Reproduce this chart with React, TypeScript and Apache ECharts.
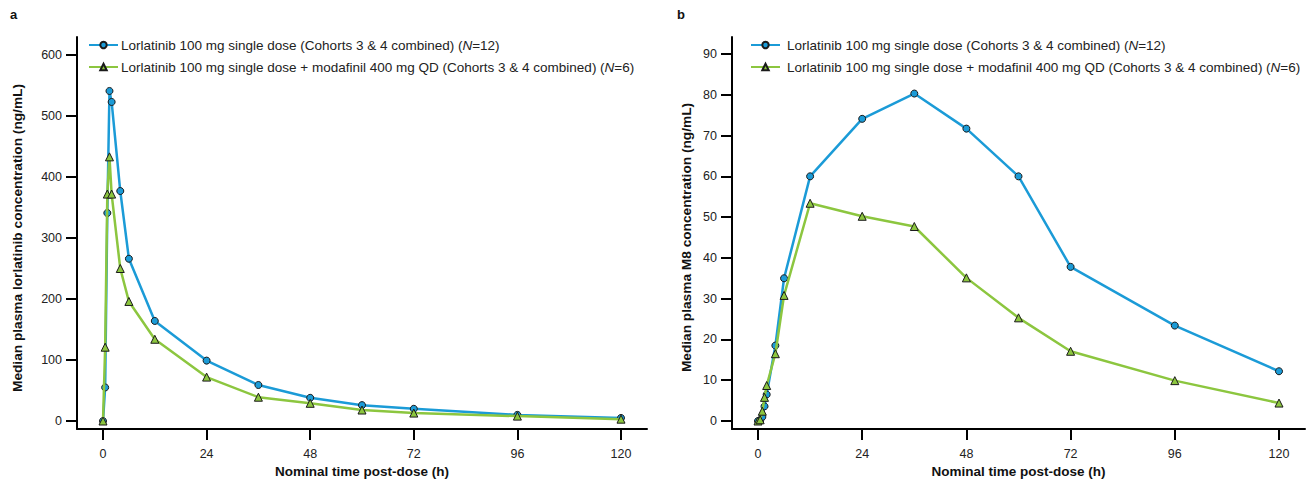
import React, { useEffect, useRef } from "react";
import * as echarts from "echarts";

const times = [0, 0.5, 1, 1.5, 2, 4, 6, 12, 24, 36, 48, 60, 72, 96, 120];
const lorlatinibA = [0, 55, 341, 541, 523, 377, 266, 164, 99, 59, 38, 26, 20, 10, 5];
const modafinilA = [0, 121, 372, 433, 372, 250, 196, 134, 72, 39, 29, 18, 13, 8, 3];
const lorlatinibB = [0, 0.1, 1.0, 3.6, 6.5, 18.5, 35, 60, 74.1, 80.3, 71.7, 60, 37.8, 23.4, 12.2];
const modafinilB = [0, 0.3, 2.4, 5.8, 8.7, 16.5, 30.8, 53.4, 50.2, 47.7, 35.1, 25.3, 17.1, 9.9, 4.4];
const xTickStep = 24;
const xMax = 120;
const yMaxA = 600;
const yStepA = 100;
const yMaxB = 90;
const yStepB = 10;

const nameBlue = "Lorlatinib 100 mg single dose (Cohorts 3 & 4 combined) (N=12)";
const nameGreen = "Lorlatinib 100 mg single dose + modafinil 400 mg QD (Cohorts 3 & 4 combined) (N=6)";

const BLUE = "#1b9bd7";
const GREEN = "#8cc63f";
const FONT = "Liberation Sans, Arial, sans-serif";

const pairs = (ys: number[]) => times.map((t, i) => [t, ys[i]]);

export default function App() {
  const ref = useRef<HTMLDivElement>(null);
  useEffect(() => {
    if (!ref.current) return;
    const chart = echarts.init(ref.current, undefined, { renderer: "svg" });
    const lineOnly = (gi: number) => ({
      type: "value",
      gridIndex: gi,
      min: 0,
      max: 1,
      axisLine: { show: true, onZero: false, lineStyle: { color: "#000", width: 2 } },
      axisTick: { show: false },
      axisLabel: { show: false },
      splitLine: { show: false },
    });
    const dummy = (gi: number) => ({ type: "value", gridIndex: gi, min: 0, max: 1, show: false });
    const strip = (gi: number, max: number, step: number) => ({
      type: "value",
      gridIndex: gi,
      min: 0,
      max,
      interval: step,
      axisLine: { show: false },
      axisTick: { show: false },
      axisLabel: { show: false },
      splitLine: { show: true, showMinLine: true, showMaxLine: true, lineStyle: { color: "#000", width: 2, type: "solid" } },
    });
    const xAxis = (gi: number) => ({
      type: "value",
      gridIndex: gi,
      min: 0,
      max: xMax,
      interval: xTickStep,
      offset: 8,
      axisLine: { show: false, onZero: false },
      splitLine: { show: false },
      axisTick: { show: false },
      axisLabel: { color: "#222", fontSize: 12.5, fontFamily: FONT, margin: 18 },
      name: "Nominal time post-dose (h)",
      nameLocation: "middle",
      nameGap: 34,
      nameTextStyle: { fontWeight: "bold", fontSize: 13.5, color: "#111", fontFamily: FONT },
    });
    const yAxis = (gi: number, max: number, step: number, gap: number, name: string) => ({
      type: "value",
      gridIndex: gi,
      min: 0,
      max,
      interval: step,
      offset: 26,
      axisLine: { show: false, onZero: false },
      splitLine: { show: false },
      axisTick: { show: false },
      axisLabel: { color: "#222", fontSize: 12.5, fontFamily: FONT, margin: 15 },
      name,
      nameLocation: "middle",
      nameGap: gap,
      nameRotate: 90,
      nameTextStyle: { fontWeight: "bold", fontSize: 13.7, color: "#111", fontFamily: FONT },
    });
    const mkSeries = (name: string, data: number[], ai: number, blue: boolean) => ({
      type: "line",
      name,
      xAxisIndex: ai,
      yAxisIndex: ai,
      data: pairs(data),
      clip: false,
      symbol: blue ? "circle" : "triangle",
      symbolSize: blue ? 7 : 8,
      showAllSymbol: true,
      z: blue ? 2 : 3,
      lineStyle: { color: blue ? BLUE : GREEN, width: 2.5 },
      itemStyle: { color: blue ? BLUE : GREEN, borderColor: "#1a1a1a", borderWidth: 1 },
      emphasis: { disabled: true },
    });
    const legend = (left: number, pad: number) => ({
      left,
      top: 33,
      orient: "vertical",
      itemWidth: 29,
      itemHeight: 8,
      itemGap: 8,
      data: [nameBlue, nameGreen],
      formatter: (n: string) => n.replace("(N=", "({i|N}="),
      textStyle: {
        fontSize: 13.5,
        color: "#222",
        fontFamily: FONT,
        padding: [0, 0, 0, pad],
        rich: { i: { fontStyle: "italic", fontSize: 13.5, color: "#222", fontFamily: FONT } },
      },
      selectedMode: false,
    });
    const g = (left: number, right: number, top: number, bottom: number) => ({
      left, right, top, bottom, containLabel: false, outerBoundsMode: "none",
    });
    chart.setOption({
      animation: false,
      backgroundColor: "#fff",
      grid: [
        g(77, 669, 37, 51),
        g(732, 11, 37, 51),
        g(103, 695, 55, 59),
        g(758, 37, 54, 59),
        g(103, 695, 429, 40),
        g(758, 37, 429, 40),
        g(66, 1239, 55, 59),
        g(721, 584, 54, 59),
      ],
      xAxis: [lineOnly(0), lineOnly(1), xAxis(2), xAxis(3), strip(4, xMax, xTickStep), strip(5, xMax, xTickStep), dummy(6), dummy(7)],
      yAxis: [
        lineOnly(0),
        lineOnly(1),
        yAxis(2, yMaxA, yStepA, 53, "Median plasma lorlatinib concentration (ng/mL)"),
        yAxis(3, yMaxB, yStepB, 39, "Median plasma M8 concentration (ng/mL)"),
        dummy(4),
        dummy(5),
        strip(6, yMaxA, yStepA),
        strip(7, yMaxB, yStepB),
      ],
      legend: [legend(83, -2), legend(745, 2)],
      series: [
        mkSeries(nameBlue, lorlatinibA, 2, true),
        mkSeries(nameGreen, modafinilA, 2, false),
        mkSeries(nameBlue, lorlatinibB, 3, true),
        mkSeries(nameGreen, modafinilB, 3, false),
      ],
      graphic: [
        { type: "text", left: 10, top: 8, style: { text: "a", font: `bold 13px ${FONT}`, fill: "#111" } },
        { type: "text", left: 677, top: 8, style: { text: "b", font: `bold 13px ${FONT}`, fill: "#111" } },
      ],
    });
    return () => chart.dispose();
  }, []);
  return <div ref={ref} style={{ position: "absolute", left: 0, top: 0, width: 1316, height: 480 }} />;
}
